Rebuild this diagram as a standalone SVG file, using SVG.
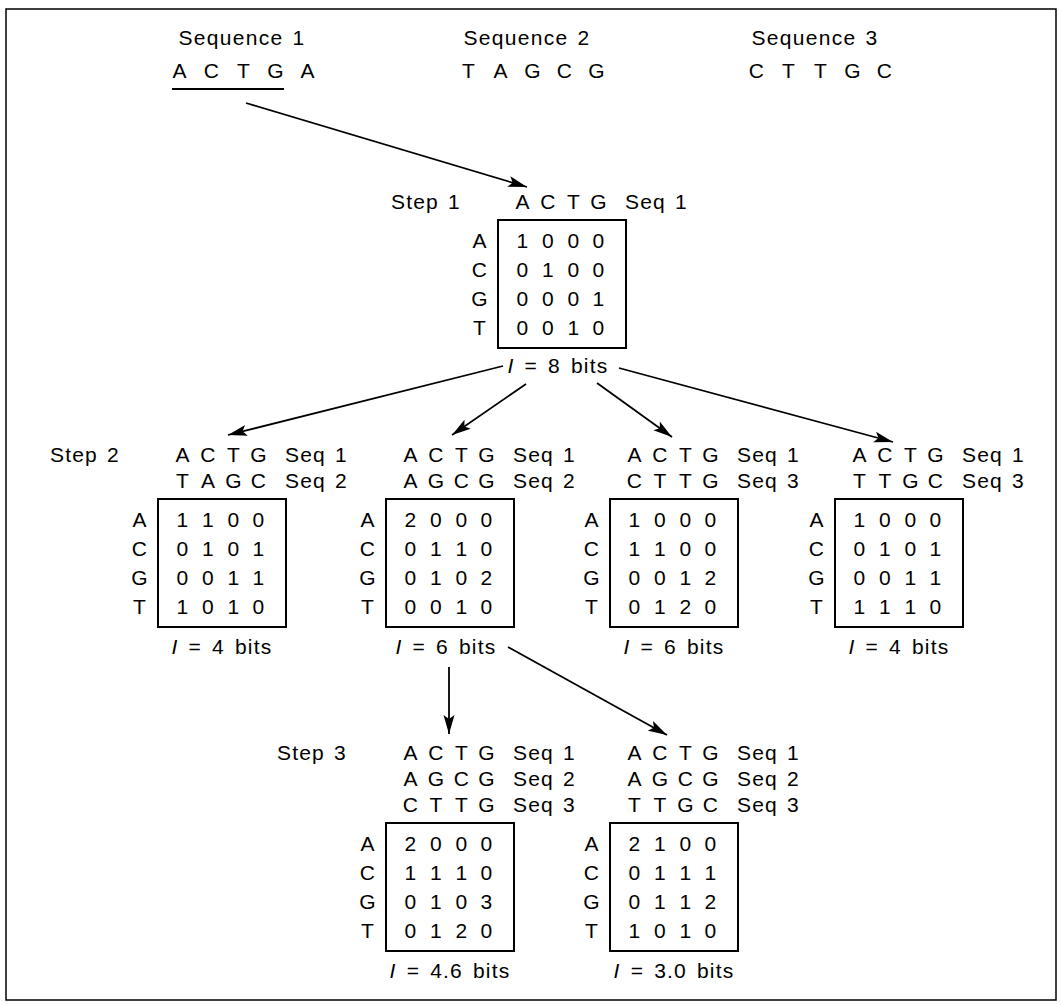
<svg xmlns="http://www.w3.org/2000/svg" width="1062" height="1005" viewBox="0 0 1062 1005">
<defs>
<style>
text { font-family: "Liberation Sans", Arial, sans-serif; font-size: 21px; fill: #000; letter-spacing: 1.2px; word-spacing: 2px; }
.c { text-anchor: middle; }
.top { letter-spacing: 1.3px; }
.lab { word-spacing: 3px; }
.box { fill: none; stroke: #000; stroke-width: 2; }
.ln { stroke: #000; stroke-width: 1.8; fill: none; marker-end: url(#ah); }
.it { font-style: italic; }
</style>
<marker id="ah" markerUnits="userSpaceOnUse" markerWidth="20" markerHeight="12" refX="19" refY="6" orient="auto">
<path d="M0,0.5 L19,6 L0,11.5 L4,6 Z" fill="#000"/>
</marker>
</defs>
<rect x="6" y="9" width="1050" height="991" fill="#fff" stroke="#000" stroke-width="1.5"/>

<g id="sequences">
<text class="top c" x="242" y="45">Sequence 1</text>
<text class="top c" x="527" y="45">Sequence 2</text>
<text class="top c" x="815" y="45">Sequence 3</text>
<text class="c" x="180" y="78">A</text><text class="c" x="212" y="78">C</text><text class="c" x="244" y="78">T</text><text class="c" x="276" y="78">G</text><text class="c" x="308" y="78">A</text>
<text class="c" x="469" y="78">T</text><text class="c" x="501" y="78">A</text><text class="c" x="533" y="78">G</text><text class="c" x="565" y="78">C</text><text class="c" x="597" y="78">G</text>
<text class="c" x="757" y="78">C</text><text class="c" x="789" y="78">T</text><text class="c" x="821" y="78">T</text><text class="c" x="853" y="78">G</text><text class="c" x="885" y="78">C</text>
<line x1="172" y1="89" x2="284" y2="89" stroke="#000" stroke-width="2"/>
</g>

<text x="391" y="209">Step 1</text>
<text x="50" y="462">Step 2</text>
<text x="277" y="760">Step 3</text>

<g id="step1" transform="translate(498,220)">
<rect class="box" x="0" y="0" width="128" height="128"/>
<text class="c" x="25" y="-11">A</text><text class="c" x="50.5" y="-11">C</text><text class="c" x="76" y="-11">T</text><text class="c" x="101" y="-11">G</text><text x="127" y="-11">Seq 1</text>
<text class="c" x="-18" y="28">A</text><text class="c" x="-18" y="57">C</text><text class="c" x="-18" y="86">G</text><text class="c" x="-18" y="115">T</text>
<text class="c" x="25" y="28">1</text><text class="c" x="50.5" y="28">0</text><text class="c" x="76" y="28">0</text><text class="c" x="101" y="28">0</text>
<text class="c" x="25" y="57">0</text><text class="c" x="50.5" y="57">1</text><text class="c" x="76" y="57">0</text><text class="c" x="101" y="57">0</text>
<text class="c" x="25" y="86">0</text><text class="c" x="50.5" y="86">0</text><text class="c" x="76" y="86">0</text><text class="c" x="101" y="86">1</text>
<text class="c" x="25" y="115">0</text><text class="c" x="50.5" y="115">0</text><text class="c" x="76" y="115">1</text><text class="c" x="101" y="115">0</text>
<text class="c lab" x="60" y="153"><tspan class="it">I</tspan> = 8 bits</text>
</g>

<g id="step2a" transform="translate(158,499)">
<rect class="box" x="0" y="0" width="128" height="128"/>
<text class="c" x="25" y="-37">A</text><text class="c" x="50.5" y="-37">C</text><text class="c" x="76" y="-37">T</text><text class="c" x="101" y="-37">G</text><text x="127" y="-37">Seq 1</text>
<text class="c" x="25" y="-11">T</text><text class="c" x="50.5" y="-11">A</text><text class="c" x="76" y="-11">G</text><text class="c" x="101" y="-11">C</text><text x="127" y="-11">Seq 2</text>
<text class="c" x="-18" y="28">A</text><text class="c" x="-18" y="57">C</text><text class="c" x="-18" y="86">G</text><text class="c" x="-18" y="115">T</text>
<text class="c" x="25" y="28">1</text><text class="c" x="50.5" y="28">1</text><text class="c" x="76" y="28">0</text><text class="c" x="101" y="28">0</text>
<text class="c" x="25" y="57">0</text><text class="c" x="50.5" y="57">1</text><text class="c" x="76" y="57">0</text><text class="c" x="101" y="57">1</text>
<text class="c" x="25" y="86">0</text><text class="c" x="50.5" y="86">0</text><text class="c" x="76" y="86">1</text><text class="c" x="101" y="86">1</text>
<text class="c" x="25" y="115">1</text><text class="c" x="50.5" y="115">0</text><text class="c" x="76" y="115">1</text><text class="c" x="101" y="115">0</text>
<text class="c lab" x="64" y="155"><tspan class="it">I</tspan> = 4 bits</text>
</g>

<g id="step2b" transform="translate(386,499)">
<rect class="box" x="0" y="0" width="128" height="128"/>
<text class="c" x="25" y="-37">A</text><text class="c" x="50.5" y="-37">C</text><text class="c" x="76" y="-37">T</text><text class="c" x="101" y="-37">G</text><text x="127" y="-37">Seq 1</text>
<text class="c" x="25" y="-11">A</text><text class="c" x="50.5" y="-11">G</text><text class="c" x="76" y="-11">C</text><text class="c" x="101" y="-11">G</text><text x="127" y="-11">Seq 2</text>
<text class="c" x="-18" y="28">A</text><text class="c" x="-18" y="57">C</text><text class="c" x="-18" y="86">G</text><text class="c" x="-18" y="115">T</text>
<text class="c" x="25" y="28">2</text><text class="c" x="50.5" y="28">0</text><text class="c" x="76" y="28">0</text><text class="c" x="101" y="28">0</text>
<text class="c" x="25" y="57">0</text><text class="c" x="50.5" y="57">1</text><text class="c" x="76" y="57">1</text><text class="c" x="101" y="57">0</text>
<text class="c" x="25" y="86">0</text><text class="c" x="50.5" y="86">1</text><text class="c" x="76" y="86">0</text><text class="c" x="101" y="86">2</text>
<text class="c" x="25" y="115">0</text><text class="c" x="50.5" y="115">0</text><text class="c" x="76" y="115">1</text><text class="c" x="101" y="115">0</text>
<text class="c lab" x="60" y="155"><tspan class="it">I</tspan> = 6 bits</text>
</g>

<g id="step2c" transform="translate(610,499)">
<rect class="box" x="0" y="0" width="128" height="128"/>
<text class="c" x="25" y="-37">A</text><text class="c" x="50.5" y="-37">C</text><text class="c" x="76" y="-37">T</text><text class="c" x="101" y="-37">G</text><text x="127" y="-37">Seq 1</text>
<text class="c" x="25" y="-11">C</text><text class="c" x="50.5" y="-11">T</text><text class="c" x="76" y="-11">T</text><text class="c" x="101" y="-11">G</text><text x="127" y="-11">Seq 3</text>
<text class="c" x="-18" y="28">A</text><text class="c" x="-18" y="57">C</text><text class="c" x="-18" y="86">G</text><text class="c" x="-18" y="115">T</text>
<text class="c" x="25" y="28">1</text><text class="c" x="50.5" y="28">0</text><text class="c" x="76" y="28">0</text><text class="c" x="101" y="28">0</text>
<text class="c" x="25" y="57">1</text><text class="c" x="50.5" y="57">1</text><text class="c" x="76" y="57">0</text><text class="c" x="101" y="57">0</text>
<text class="c" x="25" y="86">0</text><text class="c" x="50.5" y="86">0</text><text class="c" x="76" y="86">1</text><text class="c" x="101" y="86">2</text>
<text class="c" x="25" y="115">0</text><text class="c" x="50.5" y="115">1</text><text class="c" x="76" y="115">2</text><text class="c" x="101" y="115">0</text>
<text class="c lab" x="64" y="155"><tspan class="it">I</tspan> = 6 bits</text>
</g>

<g id="step2d" transform="translate(835,499)">
<rect class="box" x="0" y="0" width="128" height="128"/>
<text class="c" x="25" y="-37">A</text><text class="c" x="50.5" y="-37">C</text><text class="c" x="76" y="-37">T</text><text class="c" x="101" y="-37">G</text><text x="127" y="-37">Seq 1</text>
<text class="c" x="25" y="-11">T</text><text class="c" x="50.5" y="-11">T</text><text class="c" x="76" y="-11">G</text><text class="c" x="101" y="-11">C</text><text x="127" y="-11">Seq 3</text>
<text class="c" x="-18" y="28">A</text><text class="c" x="-18" y="57">C</text><text class="c" x="-18" y="86">G</text><text class="c" x="-18" y="115">T</text>
<text class="c" x="25" y="28">1</text><text class="c" x="50.5" y="28">0</text><text class="c" x="76" y="28">0</text><text class="c" x="101" y="28">0</text>
<text class="c" x="25" y="57">0</text><text class="c" x="50.5" y="57">1</text><text class="c" x="76" y="57">0</text><text class="c" x="101" y="57">1</text>
<text class="c" x="25" y="86">0</text><text class="c" x="50.5" y="86">0</text><text class="c" x="76" y="86">1</text><text class="c" x="101" y="86">1</text>
<text class="c" x="25" y="115">1</text><text class="c" x="50.5" y="115">1</text><text class="c" x="76" y="115">1</text><text class="c" x="101" y="115">0</text>
<text class="c lab" x="64" y="155"><tspan class="it">I</tspan> = 4 bits</text>
</g>

<g id="step3a" transform="translate(386,823)">
<rect class="box" x="0" y="0" width="128" height="128"/>
<text class="c" x="25" y="-63">A</text><text class="c" x="50.5" y="-63">C</text><text class="c" x="76" y="-63">T</text><text class="c" x="101" y="-63">G</text><text x="127" y="-63">Seq 1</text>
<text class="c" x="25" y="-37">A</text><text class="c" x="50.5" y="-37">G</text><text class="c" x="76" y="-37">C</text><text class="c" x="101" y="-37">G</text><text x="127" y="-37">Seq 2</text>
<text class="c" x="25" y="-11">C</text><text class="c" x="50.5" y="-11">T</text><text class="c" x="76" y="-11">T</text><text class="c" x="101" y="-11">G</text><text x="127" y="-11">Seq 3</text>
<text class="c" x="-18" y="28">A</text><text class="c" x="-18" y="57">C</text><text class="c" x="-18" y="86">G</text><text class="c" x="-18" y="115">T</text>
<text class="c" x="25" y="28">2</text><text class="c" x="50.5" y="28">0</text><text class="c" x="76" y="28">0</text><text class="c" x="101" y="28">0</text>
<text class="c" x="25" y="57">1</text><text class="c" x="50.5" y="57">1</text><text class="c" x="76" y="57">1</text><text class="c" x="101" y="57">0</text>
<text class="c" x="25" y="86">0</text><text class="c" x="50.5" y="86">1</text><text class="c" x="76" y="86">0</text><text class="c" x="101" y="86">3</text>
<text class="c" x="25" y="115">0</text><text class="c" x="50.5" y="115">1</text><text class="c" x="76" y="115">2</text><text class="c" x="101" y="115">0</text>
<text class="c lab" x="64" y="155"><tspan class="it">I</tspan> = 4.6 bits</text>
</g>

<g id="step3b" transform="translate(610,823)">
<rect class="box" x="0" y="0" width="128" height="128"/>
<text class="c" x="25" y="-63">A</text><text class="c" x="50.5" y="-63">C</text><text class="c" x="76" y="-63">T</text><text class="c" x="101" y="-63">G</text><text x="127" y="-63">Seq 1</text>
<text class="c" x="25" y="-37">A</text><text class="c" x="50.5" y="-37">G</text><text class="c" x="76" y="-37">C</text><text class="c" x="101" y="-37">G</text><text x="127" y="-37">Seq 2</text>
<text class="c" x="25" y="-11">T</text><text class="c" x="50.5" y="-11">T</text><text class="c" x="76" y="-11">G</text><text class="c" x="101" y="-11">C</text><text x="127" y="-11">Seq 3</text>
<text class="c" x="-18" y="28">A</text><text class="c" x="-18" y="57">C</text><text class="c" x="-18" y="86">G</text><text class="c" x="-18" y="115">T</text>
<text class="c" x="25" y="28">2</text><text class="c" x="50.5" y="28">1</text><text class="c" x="76" y="28">0</text><text class="c" x="101" y="28">0</text>
<text class="c" x="25" y="57">0</text><text class="c" x="50.5" y="57">1</text><text class="c" x="76" y="57">1</text><text class="c" x="101" y="57">1</text>
<text class="c" x="25" y="86">0</text><text class="c" x="50.5" y="86">1</text><text class="c" x="76" y="86">1</text><text class="c" x="101" y="86">2</text>
<text class="c" x="25" y="115">1</text><text class="c" x="50.5" y="115">0</text><text class="c" x="76" y="115">1</text><text class="c" x="101" y="115">0</text>
<text class="c lab" x="64" y="155"><tspan class="it">I</tspan> = 3.0 bits</text>
</g>

<g id="connectors">
<line class="ln" x1="246" y1="103" x2="527" y2="187"/>
<line class="ln" x1="503" y1="366" x2="228" y2="435"/>
<line class="ln" x1="526" y1="384" x2="452" y2="435"/>
<line class="ln" x1="597" y1="383" x2="672" y2="437"/>
<line class="ln" x1="619" y1="368" x2="893" y2="442"/>
<line class="ln" x1="449" y1="667" x2="449" y2="734"/>
<line class="ln" x1="508" y1="647" x2="667" y2="735"/>
</g>
</svg>
